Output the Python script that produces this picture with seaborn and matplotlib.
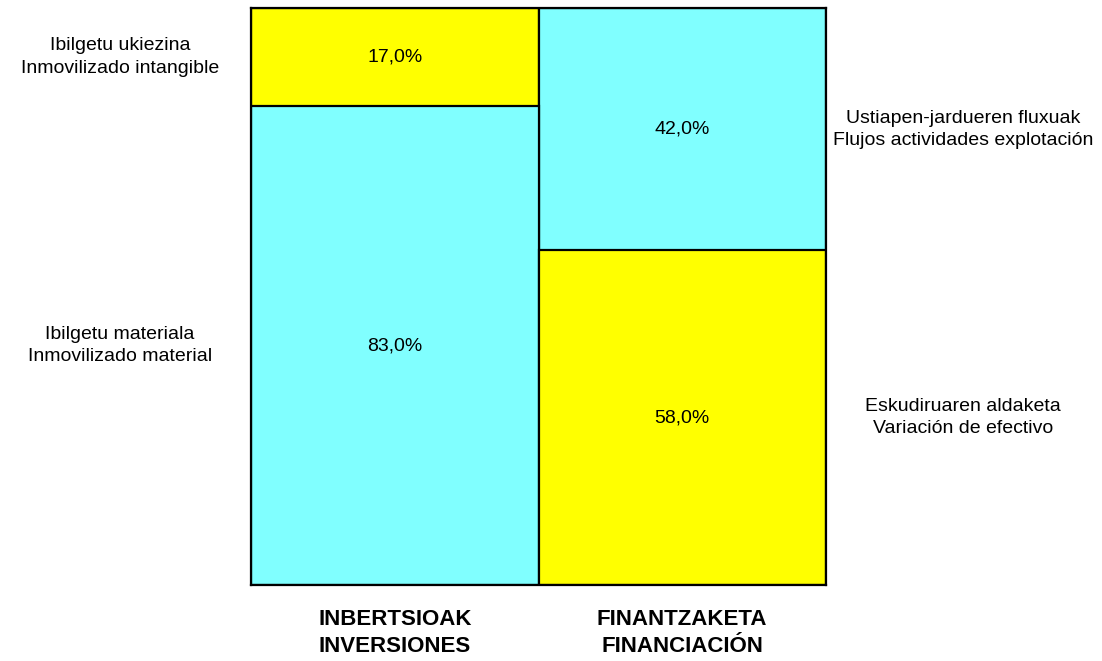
import pandas as pd
import seaborn as sns
import matplotlib.pyplot as plt

# datos
categorias = ["INBERTSIOAK\nINVERSIONES", "FINANTZAKETA\nFINANCIACIÓN"]
inferior = [83.0, 58.0]   # tramo de abajo
superior = [17.0, 42.0]   # tramo de arriba
etiquetas_inf = ["Ibilgetu materiala\nInmovilizado material",
                 "Eskudiruaren aldaketa\nVariación de efectivo"]
etiquetas_sup = ["Ibilgetu ukiezina\nInmovilizado intangible",
                 "Ustiapen-jardueren fluxuak\nFlujos actividades explotación"]

CYAN = "#80FFFF"
AMARILLO = "#FFFF00"
colores_inf = [CYAN, AMARILLO]
colores_sup = [AMARILLO, CYAN]

df = pd.DataFrame({"cat": categorias, "inf": inferior, "sup": superior})
df["total"] = df["inf"] + df["sup"]

sns.set_style("white")
plt.rcParams["font.family"] = ["Liberation Sans", "DejaVu Sans"]
plt.rcParams["text.color"] = "black"
plt.rcParams["xtick.color"] = "black"

fig = plt.figure(figsize=(11.02, 6.61), dpi=100)
ax = fig.add_axes([251 / 1102, 1 - 585 / 661, 575 / 1102, 577 / 661])

# barra completa (color del tramo superior) y encima el tramo inferior
sns.barplot(data=df, x="cat", y="total", hue="cat", palette=colores_sup,
            saturation=1, width=1, edgecolor="black", linewidth=1.6,
            legend=False, ax=ax)
sns.barplot(data=df, x="cat", y="inf", hue="cat", palette=colores_inf,
            saturation=1, width=1, edgecolor="black", linewidth=1.6,
            legend=False, ax=ax)

ax.set_xlim(-0.5, 1.5)
ax.set_ylim(0, 100)

for i in range(len(df)):
    ax.text(i, df["inf"][i] / 2, f"{df['inf'][i]:.1f}%".replace(".", ","),
            ha="center", va="center", fontsize=14)
    ax.text(i, df["inf"][i] + df["sup"][i] / 2,
            f"{df['sup'][i]:.1f}%".replace(".", ","),
            ha="center", va="center", fontsize=14)

# textos laterales
pos_x = [-0.956, 1.977]
for i in range(len(df)):
    ax.text(pos_x[i], df["inf"][i] / 2, etiquetas_inf[i], ha="center",
            va="center", fontsize=14, linespacing=1.4, clip_on=False)
    ax.text(pos_x[i], df["inf"][i] + df["sup"][i] / 2, etiquetas_sup[i],
            ha="center", va="center", fontsize=14, linespacing=1.4,
            clip_on=False)

ax.set_xlabel("")
ax.set_ylabel("")
ax.set_yticks([])
ax.tick_params(axis="x", length=0, pad=17)
for lbl in ax.get_xticklabels():
    lbl.set_fontweight("bold")
    lbl.set_fontsize(16)
    lbl.set_linespacing(1.4)
for s in ax.spines.values():
    s.set_color("black")
    s.set_linewidth(1.6)

plt.savefig("out.png", dpi=100)
